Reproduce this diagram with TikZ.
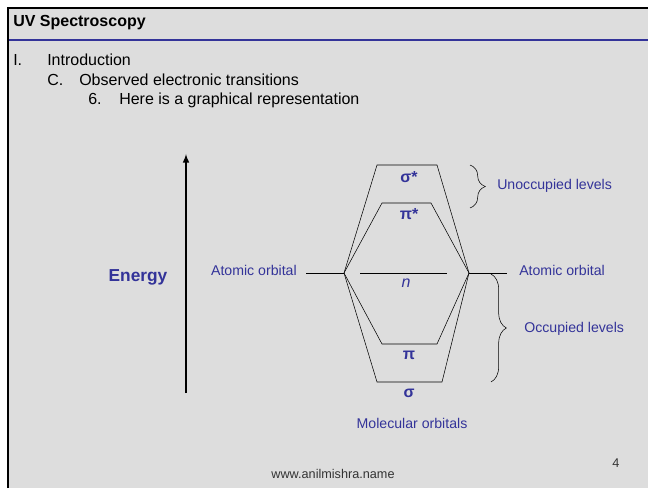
\documentclass[tikz,border=0pt]{standalone}
\usepackage{fontspec}
\setmainfont{Liberation Sans}
\usetikzlibrary{decorations.pathreplacing}
\definecolor{slidegray}{RGB}{221,221,221}
\definecolor{slideblue}{RGB}{51,51,153}
\begin{document}
\begin{tikzpicture}[>=latex,x=0.75pt,y=-0.75pt,
  lbl/.style={text=slideblue,inner sep=0pt,font=\fontsize{10.6}{12}\selectfont},
  sym/.style={text=slideblue,inner sep=0pt,font=\bfseries\fontsize{12}{14}\selectfont},
  item/.style={inner sep=0pt,anchor=base west,font=\fontsize{12}{14}\selectfont},
  brc/.style={decorate,decoration={brace,amplitude=11.5pt}}]
  % page
  \useasboundingbox (0,0) rectangle (648,488);
  \fill[white] (0,0) rectangle (648,488);
  \fill[slidegray] (8,8) rectangle (648,488);
  \draw[line width=1.5pt] (8,488) -- (8,8) -- (648,8);
  \draw[slideblue,line width=1.5pt] (9,40) -- (648,40);

  % title and outline
  \node[item,font=\bfseries\fontsize{12}{14}\selectfont] (title) at (13,27) {UV Spectroscopy};
  \node[item] (n1) at (13,66) {I.};
  \node[item] (t1) at (47,66) {Introduction};
  \node[item] (n2) at (47,86) {C.};
  \node[item] (t2) at (79,86) {Observed electronic transitions};
  \node[item] (n3) at (88,105) {6.};
  \node[item] (t3) at (119,105) {Here is a graphical representation};

  % energy axis
  \coordinate (ebot) at (186,393);
  \coordinate (etop) at (186,154);
  \draw[->,line width=1.2pt] (ebot) -- (etop);
  \node[text=slideblue,inner sep=0pt,font=\bfseries\fontsize{13}{15}\selectfont] (energy) at (138,277) {Energy};

  % atomic orbitals
  \def\xl{344} \def\xr{469} \def\yao{273}
  \coordinate (L) at (\xl,\yao);
  \coordinate (R) at (\xr,\yao);
  \coordinate (aoL) at (306,\yao);
  \coordinate (aoR) at (507,\yao);
  \draw (aoL) -- (L);
  \draw (R) -- (aoR);
  \node[lbl,anchor=east] (aoleft) at (297,270) {Atomic orbital};
  \node[lbl,anchor=west] (aoright) at (519,270) {Atomic orbital};

  % molecular orbitals
  \foreach \name/\a/\b/\y in {ss/377/437/165, ps/382/431/203, p/382/437/344, s/377/442/382}{
    \coordinate (\name1) at (\a,\y);
    \coordinate (\name2) at (\b,\y);
    \draw (L) -- (\name1) -- (\name2) -- (R);
  }
  \coordinate (nl) at (360,\yao);
  \coordinate (nr) at (447,\yao);
  \draw (nl) -- (nr);
  \node[sym] (sslbl) at (409,177) {σ*};
  \node[sym] (pslbl) at (409,214) {π*};
  \node[text=slideblue,inner sep=0pt,font=\itshape\fontsize{12}{14}\selectfont] (nlbl) at (406,283) {n};
  \node[sym] (plbl) at (409,355) {π};
  \node[sym] (slbl) at (409,393) {σ};
  \node[lbl] (molbl) at (412,423) {Molecular orbitals};

  % braces
  \coordinate (ub1) at (470,165);
  \coordinate (ub2) at (470,208);
  \draw[brc] (ub1) -- (ub2);
  \node[lbl,anchor=west] (unocc) at (497,186) {Unoccupied levels};
  \coordinate (ob1) at (491,274);
  \coordinate (ob2) at (491,382);
  \draw[brc] (ob1) -- (ob2);
  \node[lbl,anchor=west] (occ) at (524,329) {Occupied levels};

  % footer
  \node[inner sep=0pt,text=black!80,font=\fontsize{9.5}{11}\selectfont] (web) at (333,474) {www.anilmishra.name};
  \node[inner sep=0pt,text=black!80,font=\fontsize{9.5}{11}\selectfont] (pnum) at (616,463) {4};
\end{tikzpicture}
\end{document}
